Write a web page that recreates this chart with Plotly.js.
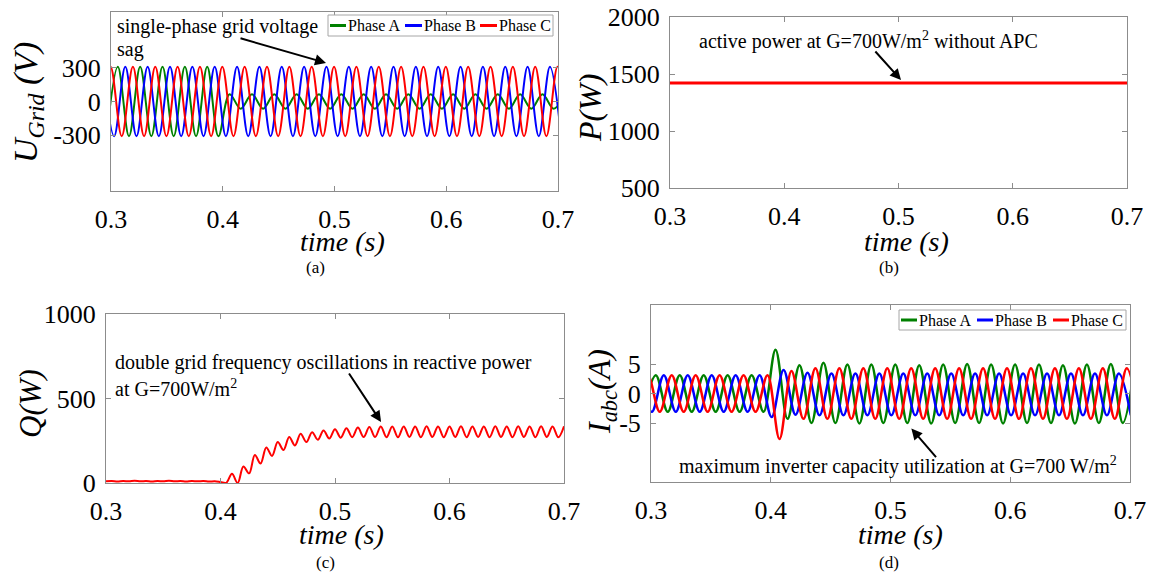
<!DOCTYPE html>
<html><head><meta charset="utf-8">
<script src="https://cdn.plot.ly/plotly-3.0.1.min.js"></script>
<style>html,body{margin:0;padding:0;background:#fff;}#chart{width:1157px;height:574px;}</style>
</head><body><div id="chart"></div>
<script>
// ---------- data ----------
// Waveforms are given as their successive half-cycle extrema (peak / trough values),
// starting at time t0 and spaced by half a grid period.
const halfCycle = 0.01; // s (50 Hz grid)

// (a) grid voltages, V
const uA_t0 = 0.2961;
const uA_peaks = [-311,311,-311,311,-311,311,-311,311,-311,311,-311,
  65,-65,65,-65,65,-65,65,-65,65,-65,65,-65,65,-65,65,-65,65,-65,65,-65,65,-65,65,-65,65,-65,65,-65,65,-65,65];
const uB_t0 = 0.2928;
const uB_peaks = [311,-311,311,-311,311,-311,311,-311,311,-311,311,-311,311,-311,311,-311,311,-311,311,-311,311,
  -311,311,-311,311,-311,311,-311,311,-311,311,-311,311,-311,311,-311,311,-311,311,-311,311,-311];
const uC_t0 = 0.2896;
const uC_peaks = [-311,311,-311,311,-311,311,-311,311,-311,311,-311,311,-311,311,-311,311,-311,311,-311,311,-311,
  311,-311,311,-311,311,-311,311,-311,311,-311,311,-311,311,-311,311,-311,311,-311,311,-311,311,-311];

// (b) active power, W
const pTime = [0.3, 0.4, 0.5, 0.6, 0.7];
const pValues = [1420, 1420, 1420, 1420, 1420];

// (c) reactive power, W
const qTime = [0.300,0.305,0.310,0.315,0.320,0.325,0.330,0.335,0.340,0.345,0.350,0.355,0.360,0.365,0.370,0.375,0.380,0.385,0.390,0.395,
  0.400,0.405,0.410,0.415,0.420,0.425,0.430,0.435,0.440,0.445,0.450,0.455,0.460,0.465,0.470,0.475,0.480,0.485,0.490,0.495,
  0.500,0.505,0.510,0.515,0.520,0.525,0.530,0.535,0.540,0.545,0.550,0.555,0.560,0.565,0.570,0.575,0.580,0.585,0.590,0.595,
  0.600,0.605,0.610,0.615,0.620,0.625,0.630,0.635,0.640,0.645,0.650,0.655,0.660,0.665,0.670,0.675,0.680,0.685,0.690,0.695,0.700];
const qValues = [10,12,9,12,10,13,10,12,9,12,10,13,10,12,9,12,10,12,9,10,
  6,1,55,0,98,57,166,115,210,160,242,195,272,222,291,242,301,256,311,263,
  318,268,324,271,328,272,331,272,334,271,335,271,335,272,335,271,336,272,335,271,
  335,272,336,271,335,272,335,271,336,272,335,271,336,272,335,271,336,272,335,271,336];

// (d) inverter currents, A
const iA_t0 = 0.294;
const iA_peaks = [-3.1,3.1,-3.1,3.1,-3.1,3.1,-3.1,3.1,-3.1,3.1,-3.1,
  7.4,-4.3,4.8,-5.0,5.2,-5.0,4.9,-5.1,4.9,-5.0,4.9,-5.0,4.8,-5.1,4.9,-5.0,5.0,-5.0,4.9,-5.1,4.9,-5.0,4.9,-5.0,4.8,-5.1,4.9,-5.0,5.0,-5.0,4.9];
const iB_t0 = 0.2907;
const iB_peaks = [3.1,-3.1,3.1,-3.1,3.1,-3.1,3.1,-3.1,3.1,-3.1,3.1,
  -4.0,4.0,-3.6,3.5,-3.7,3.4,-3.7,3.4,-3.7,3.4,-3.7,3.4,-3.7,3.4,-3.7,3.4,-3.7,3.4,-3.7,3.4,-3.7,3.4,-3.7,3.4,-3.7,3.4,-3.7,3.4,-3.7,3.4,-3.7];
const iC_t0 = 0.2873;
const iC_peaks = [-3.1,3.1,-3.1,3.1,-3.1,3.1,-3.1,3.1,-3.1,3.1,-3.1,3.1,
  -7.7,3.8,-4.3,4.3,-4.3,4.3,-4.3,4.3,-4.3,4.3,-4.3,4.3,-4.3,4.3,-4.3,4.3,-4.3,4.3,-4.3,4.3,-4.3,4.3,-4.3,4.3,-4.3,4.3,-4.3,4.3,-4.3,4.3,-4.3];

// tick labels
const timeTicks = [0.3, 0.4, 0.5, 0.6, 0.7];
const timeTickText = ['0.3', '0.4', '0.5', '0.6', '0.7'];
const uTicks = [-300, 0, 300];
const pTicks = [500, 1000, 1500, 2000];
const qTicks = [0, 500, 1000];
const iTicks = [-5, 0, 5];
const phaseNames = ['Phase A', 'Phase B', 'Phase C'];

// ---------- drawing ----------
const W = 1157, H = 574;
const PX = x => x / W, PY = y => 1 - y / H;
const green = '#008000', blue = '#0000ff', red = '#ff0000';
const serif = 'Liberation Serif, Times New Roman, serif';

function fromExtrema(t0, peaks) {
  return { x: peaks.map((_, i) => +(t0 + i * halfCycle).toFixed(5)), y: peaks };
}
function wave(t0, peaks, color, width, xa, ya, name) {
  const s = fromExtrema(t0, peaks);
  return { type: 'scatter', mode: 'lines', x: s.x, y: s.y, name: name, xaxis: xa, yaxis: ya,
    line: { color: color, width: width, shape: 'spline', smoothing: 1 }, showlegend: false, hoverinfo: 'skip' };
}

const traces = [
  wave(uA_t0, uA_peaks, green, 2, 'x', 'y', phaseNames[0]),
  wave(uB_t0, uB_peaks, blue, 2, 'x', 'y', phaseNames[1]),
  wave(uC_t0, uC_peaks, red, 2, 'x', 'y', phaseNames[2]),
  { type: 'scatter', mode: 'lines', x: pTime, y: pValues, xaxis: 'x2', yaxis: 'y2', name: 'P',
    line: { color: red, width: 3 }, showlegend: false, hoverinfo: 'skip' },
  { type: 'scatter', mode: 'lines', x: qTime, y: qValues, xaxis: 'x3', yaxis: 'y3', name: 'Q',
    line: { color: red, width: 2, shape: 'spline', smoothing: 1 }, showlegend: false, hoverinfo: 'skip' },
  wave(iA_t0, iA_peaks, green, 2.5, 'x4', 'y4', phaseNames[0]),
  wave(iB_t0, iB_peaks, blue, 2.5, 'x4', 'y4', phaseNames[1]),
  wave(iC_t0, iC_peaks, red, 2.5, 'x4', 'y4', phaseNames[2])
];

const axBase = {
  showline: true, mirror: 'ticks', linecolor: '#8c8c8c', linewidth: 1,
  ticks: 'inside', ticklen: 5, tickcolor: '#8c8c8c', tickwidth: 1,
  showgrid: false, zeroline: false, fixedrange: true,
  tickfont: { family: serif, size: 26, color: '#000' }
};
function xAx(x0, x1, yName) {
  return Object.assign({}, axBase, { domain: [PX(x0), PX(x1)], anchor: yName, range: [0.3, 0.7],
    tickmode: 'array', tickvals: timeTicks, ticktext: timeTickText, ticklabelstandoff: 5 });
}
function yAx(y0, y1, xName, range, ticks) {
  return Object.assign({}, axBase, { domain: [PY(y1), PY(y0)], anchor: xName, range: range,
    tickmode: 'array', tickvals: ticks, ticktext: ticks.map(String), ticklabelstandoff: 4 });
}

const annotations = [];
const shapes = [];
function txt(text, x, y, size, opts) {
  annotations.push(Object.assign({ text: text, xref: 'paper', yref: 'paper', x: PX(x), y: PY(y),
    xanchor: 'center', yanchor: 'middle', showarrow: false,
    font: { family: serif, size: size, color: '#000' } }, opts || {}));
}
function arrow(xref, yref, x, y, ax, ay) {
  annotations.push({ text: '', xref: xref, yref: yref, x: x, y: y, ax: ax, ay: ay, showarrow: true,
    arrowhead: 2, arrowsize: 1.1, arrowwidth: 2, arrowcolor: '#000' });
}
function legendBox(x0, x1, y0, y1, items) {
  shapes.push({ type: 'rect', xref: 'paper', yref: 'paper', x0: PX(x0), x1: PX(x1), y0: PY(y1), y1: PY(y0),
    line: { color: '#a6a6a6', width: 1 }, fillcolor: '#fff', layer: 'above' });
  const yc = (y0 + y1) / 2;
  items.forEach(it => {
    shapes.push({ type: 'line', xref: 'paper', yref: 'paper', x0: PX(it.l0), x1: PX(it.l1), y0: PY(yc), y1: PY(yc),
      line: { color: it.color, width: 3 }, layer: 'above' });
    txt(it.name, it.t, yc, 16, { xanchor: 'left' });
  });
}

// axis titles
txt('<i>U<sub>Grid</sub> (V)</i>', 28, 103, 34, { textangle: -90 });
txt('<i>P(W)</i>', 590, 108, 32, { textangle: -90 });
txt('<i>Q(W)</i>', 30, 404, 31, { textangle: -90 });
txt('<i>I<sub>abc</sub>(A)</i>', 601, 392, 32, { textangle: -90 });
txt('<i>time (s)</i>', 342, 241, 28);
txt('<i>time (s)</i>', 906, 241, 28);
txt('<i>time (s)</i>', 341, 534, 28);
txt('<i>time (s)</i>', 900, 534, 28);
// panel letters
txt('(a)', 315, 268, 17);
txt('(b)', 889, 268, 17);
txt('(c)', 326, 562, 17);
txt('(d)', 889, 562, 17);
// notes
txt('single-phase grid voltage', 115, 27, 20, { xanchor: 'left' });
txt('sag', 115, 50, 20, { xanchor: 'left' });
arrow('x', 'y', 0.4924, 345, -87, -25);
txt('active power at G=700W/m<sup>2</sup> without APC', 697, 41, 20, { xanchor: 'left' });
arrow('x2', 'y2', 0.5022, 1447, -27, -30);
txt('double grid frequency oscillations in reactive power', 113, 362, 20, { xanchor: 'left' });
txt('at G=700W/m<sup>2</sup>', 113, 388, 20, { xanchor: 'left' });
arrow('x3', 'y3', 0.5402, 361, -33, -50);
txt('maximum inverter capacity utilization at G=700 W/m<sup>2</sup>', 677, 465, 20, { xanchor: 'left' });
arrow('x4', 'y4', 0.5174, -5.94, 26, 30);
// legends
legendBox(328, 553, 15, 36, [
  { name: phaseNames[0], color: green, l0: 330, l1: 346, t: 346 },
  { name: phaseNames[1], color: blue, l0: 405, l1: 422, t: 422 },
  { name: phaseNames[2], color: red, l0: 480, l1: 497, t: 497 }
]);
legendBox(899, 1126, 310, 330, [
  { name: phaseNames[0], color: green, l0: 901, l1: 917, t: 917 },
  { name: phaseNames[1], color: blue, l0: 977, l1: 993, t: 993 },
  { name: phaseNames[2], color: red, l0: 1053, l1: 1069, t: 1069 }
]);

const layout = {
  width: W, height: H, margin: { l: 0, r: 0, t: 0, b: 0 },
  paper_bgcolor: '#fff', plot_bgcolor: '#fff', showlegend: false,
  xaxis: xAx(111, 558, 'y'), yaxis: yAx(12, 191, 'x', [-800, 800], uTicks),
  xaxis2: xAx(670, 1127, 'y2'), yaxis2: yAx(17, 188, 'x2', [500, 2000], pTicks),
  xaxis3: xAx(106, 564, 'y3'), yaxis3: yAx(314, 483, 'x3', [0, 1000], qTicks),
  xaxis4: xAx(651, 1130, 'y4'), yaxis4: yAx(305, 482, 'x4', [-15, 15], iTicks),
  annotations: annotations, shapes: shapes
};
Plotly.newPlot('chart', traces, layout, { displayModeBar: false, staticPlot: true });
</script></body></html>
